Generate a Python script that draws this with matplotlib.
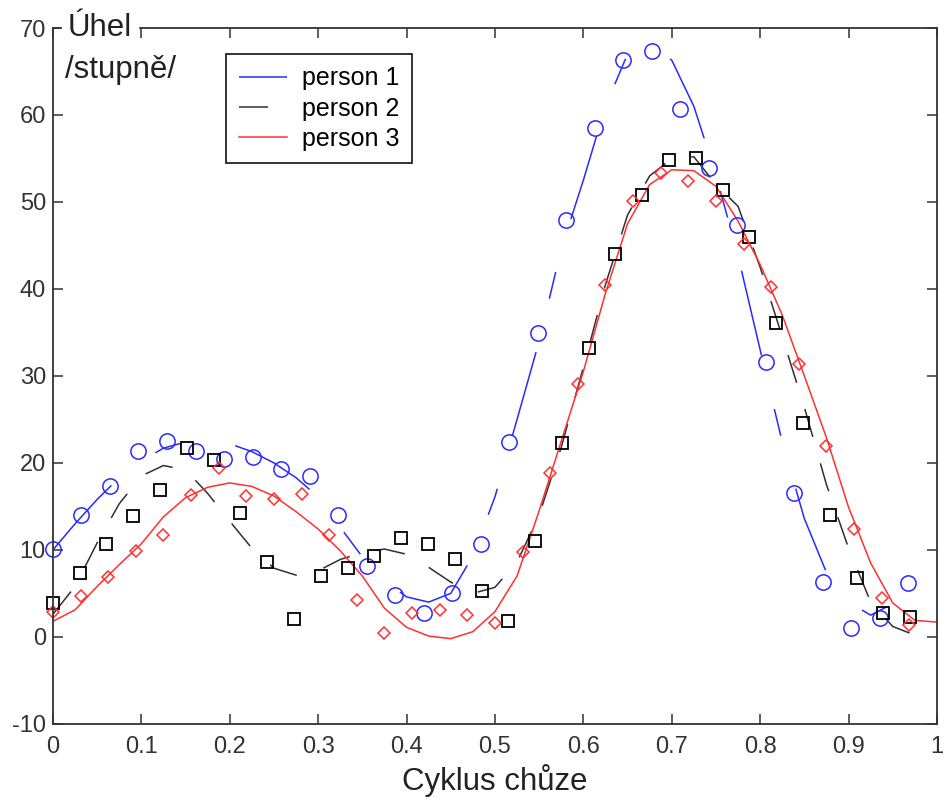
import numpy as np
import matplotlib
matplotlib.use("Agg")
import matplotlib.pyplot as plt

plt.rcParams['font.family'] = ['Liberation Sans', 'DejaVu Sans']
plt.rcParams['axes.unicode_minus'] = False

# namerene body (markery)
x_p1 = np.arange(31) / 31
y_p1 = [10.1, 14.0, 17.4, 21.4, 22.5, 21.4, 20.5, 20.7, 19.3, 18.5, 14.0, 8.2, 4.8, 2.8, 5.1, 10.7,
        22.4, 34.9, 47.9, 58.5, 66.3, 67.3, 60.7, 53.9, 47.4, 31.6, 16.6, 6.3, 1.0, 2.2, 6.2]

x_p2 = np.arange(33) / 33
y_p2 = [3.9, 7.3, 10.7, 13.9, 16.9, 21.7, 20.3, 14.3, 8.6, 2.1, 7.0, 7.9, 9.3, 11.4, 10.7, 8.9, 5.3, 1.8,
        11.0, 22.3, 33.2, 44.0, 50.8, 54.8, 55.1, 51.4, 46.0, 36.1, 24.6, 14.0, 6.8, 2.8, 2.3]

x_p3 = np.arange(32) / 32
y_p3 = [2.9, 4.7, 6.9, 9.9, 11.7, 16.3, 19.4, 16.2, 15.9, 16.4, 11.7, 4.2, 0.5, 2.8, 3.1, 2.5, 1.6,
        9.8, 18.8, 29.1, 40.5, 50.1, 53.3, 52.4, 50.1, 45.2, 40.2, 31.4, 21.9, 12.4, 4.5, 1.4]

# prolozene krivky
x_fit = np.linspace(0, 1, 41)
fit_p1 = [10.0, 13.0, 15.8, 18.3, 20.2, 21.7, 22.4, 22.6, 22.2, 21.3, 20.0, 18.3, 16.1, 12.6, 9.2,
          6.5, 4.6, 4.0, 5.0, 9.3, 16.1, 25.0, 34.0, 44.6, 52.5, 61.0, 67.0, 68.2, 66.3, 61.0, 53.1,
          43.8, 33.0, 22.4, 13.6, 7.4, 4.0, 2.5, 3.8, 6.6]
fit_p2 = [2.6, 5.8, 10.8, 15.3, 18.5, 19.7, 19.2, 16.5, 13.3, 10.2, 7.9, 7.1, 7.6, 8.9, 9.7, 10.1,
          9.5, 8.0, 6.3, 5.0, 5.7, 8.6, 14.0, 21.8, 31.0, 40.5, 48.5, 53.0, 55.0, 55.2, 52.0, 49.5,
          42.5, 34.5, 26.4, 17.5, 10.2, 4.0, 1.2, 0.2, 0.6]
fit_p3 = [1.8, 3.1, 5.8, 8.3, 10.7, 13.8, 16.0, 17.2, 17.7, 17.3, 16.2, 14.4, 12.4, 9.9, 7.0, 3.3,
          1.1, 0.1, -0.2, 0.6, 2.9, 7.0, 14.5, 22.5, 30.5, 39.5, 47.5, 52.0, 53.7, 53.6, 51.8, 47.8,
          42.8, 37.0, 30.0, 22.9, 14.9, 8.5, 3.9, 1.9, 1.7]

fig = plt.figure(figsize=(9.45, 8.07), dpi=100)
ax = fig.add_axes([0.056, 0.103, 0.9355, 0.8623])

modra = '#2a2aff'
cervena = '#ff3030'
seda = '#303030'

# modra krivka konci uz kolem 0.975
ax.plot(x_fit[:len(fit_p1)], fit_p1, color=modra, lw=1.1, dashes=(57, 36, 18, 36), label='person 1')
ax.plot(x_fit, fit_p2, color=seda, lw=1.1, dashes=(19, 18), label='person 2')
ax.plot(x_fit, fit_p3, color=cervena, lw=1.1, label='person 3')

ax.plot(x_p1, y_p1, 'o', ms=11, mfc='none', mec=modra, mew=1.1, clip_on=False)
ax.plot(x_p2, y_p2, 's', ms=9, mfc='none', mec='black', mew=1.3, clip_on=False)
ax.plot(x_p3, y_p3, 'D', ms=6.5, mfc='none', mec=cervena, mew=1.1, clip_on=False)

ax.set_xlim(0, 1)
ax.set_ylim(-10, 70)
ax.set_xticks(np.arange(0, 1.01, 0.1))
ax.set_xticklabels(['0', '0.1', '0.2', '0.3', '0.4', '0.5', '0.6', '0.7', '0.8', '0.9', '1'])
ax.set_yticks(range(-10, 71, 10))

ax.tick_params(direction='in', length=7, width=1.1, top=True, right=True,
               labelsize=17, labelcolor='#333333', color='#333333')
ax.tick_params(axis='x', pad=9)
ax.tick_params(axis='y', pad=5)
for s in ax.spines.values():
    s.set_color('#333333')
    s.set_linewidth(1.3)

ax.set_xlabel('Cyklus chůze', fontsize=22.5, color='#222222', labelpad=4)
ax.text(0.017, 1.0, 'Úhel', transform=ax.transAxes, fontsize=22.5, color='#222222',
        va='center', ha='left', backgroundcolor='white')
ax.text(0.014, 0.94, '/stupně/', transform=ax.transAxes, fontsize=22.5, color='#222222',
        va='center', ha='left')

leg = ax.legend(loc='upper left', bbox_to_anchor=(0.196, 0.963), borderaxespad=0,
                fontsize=18, handlelength=1.95, handletextpad=0.6, borderpad=0.5,
                labelspacing=0.25, fancybox=False, framealpha=1, edgecolor='#222222')
leg.get_frame().set_linewidth(1.3)

fig.savefig('out.png', dpi=100)
